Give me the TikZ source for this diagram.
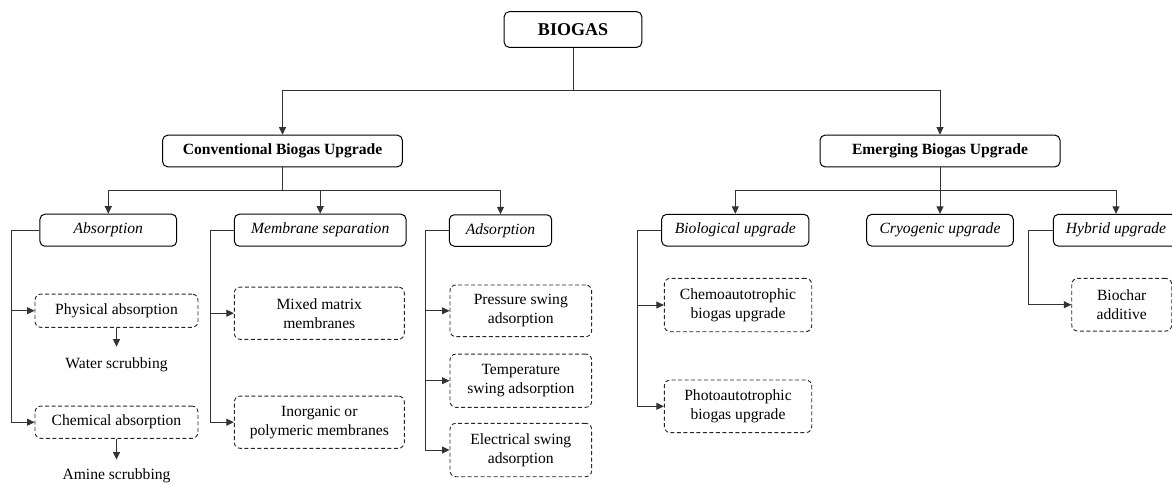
\documentclass[tikz,border=0pt]{standalone}
\usepackage{fontspec}
\setmainfont{Liberation Serif}
\usetikzlibrary{arrows.meta}
\begin{document}
\begin{tikzpicture}[x=1pt,y=-1pt,
  every node/.style={font=\fontsize{15.6}{19}\selectfont},
  solidbox/.style={draw=black, line width=1pt, rounded corners=5pt, inner sep=0pt, align=center},
  dashbox/.style={draw=black!85, line width=0.9pt, dash pattern=on 4pt off 2.5pt, rounded corners=6pt, inner sep=0pt, align=center},
  plaintext/.style={inner xsep=0pt, inner ysep=11pt, align=center},
  conn/.style={draw=black!80, line width=0.8pt},
  arr/.style={conn, -{Triangle[length=7.5pt,width=7pt]}}
]
\useasboundingbox (0,0) rectangle (1172,483);

% top levels
\node[solidbox, minimum width=137.7pt, minimum height=35.6pt, font=\fontsize{18}{21}\selectfont\bfseries] (biogas) at (573,29.5) {BIOGAS};
\node[solidbox, minimum width=239.6pt, minimum height=31.7pt, font=\fontsize{15.6}{19}\selectfont\bfseries] (conv) at (282.5,151) {Conventional Biogas Upgrade};
\node[solidbox, minimum width=240pt, minimum height=31.7pt, font=\fontsize{15.6}{19}\selectfont\bfseries] (emer) at (940,151) {Emerging Biogas Upgrade};

% second level
\node[solidbox, minimum width=136.7pt, minimum height=32pt, font=\fontsize{15.6}{19}\selectfont\itshape] (absn) at (108.3,230.2) {Absorption};
\node[solidbox, minimum width=171.7pt, minimum height=32pt, font=\fontsize{15.6}{19}\selectfont\itshape] (memb) at (320.2,230.2) {Membrane separation};
\node[solidbox, minimum width=102.4pt, minimum height=31.5pt, font=\fontsize{15.6}{19}\selectfont\itshape] (adsn) at (500.5,230.5) {Adsorption};
\node[solidbox, minimum width=147.3pt, minimum height=31.7pt, font=\fontsize{15.6}{19}\selectfont\itshape] (bio) at (735.3,230.2) {Biological upgrade};
\node[solidbox, minimum width=146.6pt, minimum height=31.7pt, font=\fontsize{15.6}{19}\selectfont\itshape] (cryo) at (940,230.2) {Cryogenic upgrade};
\node[solidbox, minimum width=125.4pt, minimum height=31.7pt, font=\fontsize{15.6}{19}\selectfont\itshape] (hyb) at (1116,230.2) {Hybrid upgrade};

% third level
\node[dashbox, minimum width=163pt, minimum height=33.3pt] (phys) at (116.5,310.7) {Physical absorption};
\node[dashbox, minimum width=163pt, minimum height=32.3pt] (chem) at (116.5,422.2) {Chemical absorption};
\node[plaintext] (water) at (116.5,365) {Water scrubbing};
\node[plaintext, inner ysep=8.5pt] (amine) at (116.5,475.3) {Amine scrubbing};

\node[dashbox, minimum width=170pt, minimum height=52.3pt] (mixed) at (319.3,313.2) {Mixed matrix\\membranes};
\node[dashbox, minimum width=170pt, minimum height=52.3pt] (inorg) at (319.3,422.2) {Inorganic or\\polymeric membranes};

\node[dashbox, minimum width=141.7pt, minimum height=51.7pt] (press) at (520.8,310.8) {Pressure swing\\adsorption};
\node[dashbox, minimum width=141.7pt, minimum height=53.3pt] (temp) at (520.8,380.7) {Temperature\\swing adsorption};
\node[dashbox, minimum width=141.7pt, minimum height=53.4pt] (elec) at (520.8,450) {Electrical swing\\adsorption};

\node[dashbox, minimum width=147.4pt, minimum height=53.4pt] (chemo) at (738,305) {Chemoautotrophic\\biogas upgrade};
\node[dashbox, minimum width=147.4pt, minimum height=52.7pt] (photo) at (738,406.3) {Photoautotrophic\\biogas upgrade};

\node[dashbox, minimum width=100pt, minimum height=52.7pt] (biochar) at (1121.7,304.7) {Biochar\\additive};

% junctions
\coordinate (j1) at (573,90.7);
\coordinate (j2) at (282.5,190.7);
\coordinate (j3) at (940,190.7);

% connectors
\draw[conn] (biogas.south) -- (j1);
\draw[arr] (j1) -| (conv.north);
\draw[arr] (j1) -| (emer.north);

\draw[conn] (conv.south) -- (j2);
\draw[arr] (j2) -| (absn.north);
\draw[arr] (j2) -| (memb.north);
\draw[arr] (j2) -| (adsn.north);

\draw[conn] (emer.south) -- (j3);
\draw[arr] (j3) -| (bio.north);
\draw[arr] (j3) -- (cryo.north);
\draw[arr] (j3) -| (hyb.north);

\draw[arr] (absn.west) -- ++(-28.5,0) |- (phys.west);
\draw[arr] (absn.west) -- ++(-28.5,0) |- (chem.west);
\draw[arr] (phys.south) -- (water.north);
\draw[arr] (chem.south) -- (amine.north);

\draw[arr] (memb.west) -- ++(-23.3,0) |- (mixed.west);
\draw[arr] (memb.west) -- ++(-23.3,0) |- (inorg.west);

\draw[arr] (adsn.west) -- ++(-23.3,0) |- (press.west);
\draw[arr] (adsn.west) -- ++(-23.3,0) |- (temp.west);
\draw[arr] (adsn.west) -- ++(-23.3,0) |- (elec.west);

\draw[arr] (bio.west) -- ++(-23.4,0) |- (chemo.west);
\draw[arr] (bio.west) -- ++(-23.4,0) |- (photo.west);

\draw[arr] (hyb.west) -- ++(-24,0) |- (biochar.west);
\end{tikzpicture}
\end{document}
